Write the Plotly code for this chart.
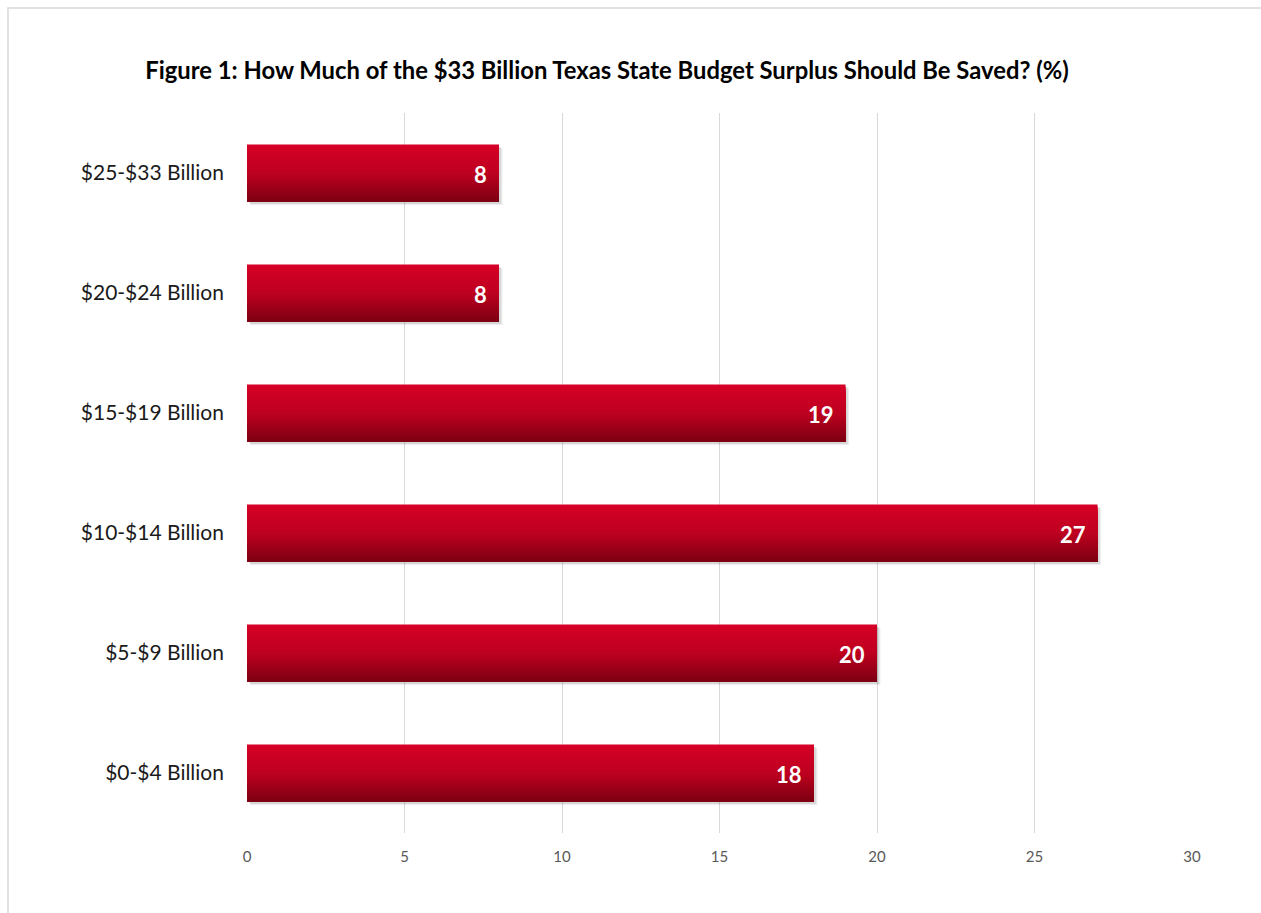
import plotly.graph_objects as go

# Survey answers: share of respondents (%) for each savings amount
categories = ["$0-$4 Billion", "$5-$9 Billion", "$10-$14 Billion",
              "$15-$19 Billion", "$20-$24 Billion", "$25-$33 Billion"]
values = [18, 20, 27, 19, 8, 8]
x_ticks = [0, 5, 10, 15, 20, 25, 30]

title_text = "Figure 1: How Much of the $33 Billion Texas State Budget Surplus Should Be Saved? (%)"

W, H = 1261, 913
L, R, T, B = 247, 69, 113, 80
FONT = "Lato, 'Open Sans', sans-serif"

BAR_W = 0.475
N_STRIPS = 30


def lerp_color(c0, c1, t):
    return "rgb(%d,%d,%d)" % tuple(round(a + (b - a) * t) for a, b in zip(c0, c1))


# vertical gradient: bright red at the top, dark red at the bottom
top_col = (213, 0, 38)
mid_col = (190, 0, 32)
bot_col = (124, 0, 17)


def grad(t):  # t = 0 bottom, 1 top
    if t < 0.5:
        return lerp_color(bot_col, mid_col, t / 0.5)
    return lerp_color(mid_col, top_col, (t - 0.5) / 0.5)


fig = go.Figure()

# soft drop shadow under each bar
for dx, dy, a in [(0.11, 0.03, 0.07), (0.07, 0.02, 0.09)]:
    fig.add_trace(go.Bar(
        x=values, y=categories, orientation="h", base=dx,
        width=BAR_W, offset=-BAR_W / 2 - dy,
        marker=dict(color="rgba(0,0,0,%.2f)" % a, line=dict(width=0)),
        hoverinfo="skip", showlegend=False,
    ))

# gradient bars: nested bars all starting at the bar bottom, drawn from the
# tallest (top colour) to the shortest (bottom colour)
step = BAR_W / N_STRIPS
for k in reversed(range(N_STRIPS)):
    t = (k + 0.5) / N_STRIPS
    fig.add_trace(go.Bar(
        x=values, y=categories, orientation="h",
        width=(k + 1) * step, offset=-BAR_W / 2,
        marker=dict(color=grad(t), line=dict(width=0)),
        hoverinfo="skip", showlegend=False,
    ))

# value labels inside the bar ends
for v, c in zip(values, categories):
    fig.add_annotation(
        x=v, y=c, text="<b>%d</b>" % v, showarrow=False,
        xanchor="right", yanchor="middle", xshift=-10, yshift=-1,
        font=dict(family=FONT, size=22, color="white"),
    )

# light frame along the top and left of the chart
fig.add_shape(
    type="rect", xref="paper", yref="paper",
    x0=(8 - L) / (W - L - R), x1=(W + 4 - L) / (W - L - R),
    y0=-(B + 4) / (H - T - B), y1=(H - 8 - B) / (H - T - B),
    line=dict(color="#d9d9d9", width=1.5), layer="below",
)

fig.update_layout(
    width=W, height=H,
    margin=dict(l=L, r=R, t=T, b=B),
    paper_bgcolor="white", plot_bgcolor="white",
    barmode="overlay",
    title=dict(
        text="<b>" + title_text + "</b>",
        x=607 / W, xanchor="center", xref="container",
        y=1 - 71 / H, yanchor="middle", yref="container",
        font=dict(family=FONT, size=23.8, color="black"),
    ),
    xaxis=dict(
        range=[0, 30], tickvals=x_ticks, showgrid=True,
        gridcolor="#d9d9d9", gridwidth=1.3, zeroline=False,
        showline=False, ticks="", ticklabelstandoff=13,
        tickfont=dict(family=FONT, size=15, color="#595959"),
        fixedrange=True,
    ),
    yaxis=dict(
        categoryorder="array", categoryarray=categories,
        showgrid=False, zeroline=False, showline=False, ticks="",
        ticklabelstandoff=22,
        tickfont=dict(family=FONT, size=21, color="#1a1a1a"),
        fixedrange=True,
    ),
    showlegend=False,
)

fig.write_html("out.html")
